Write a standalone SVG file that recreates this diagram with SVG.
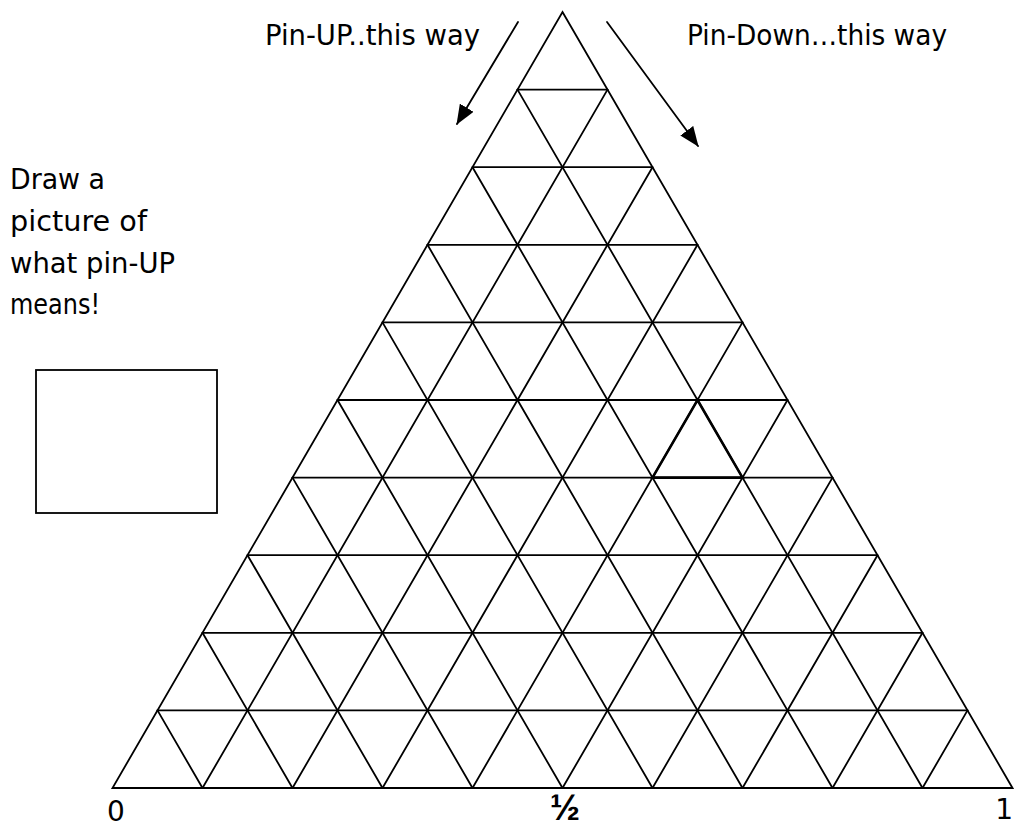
<svg xmlns="http://www.w3.org/2000/svg" width="1014" height="827" viewBox="0 0 1014 827">
  <style>
    .g { stroke: #000; stroke-width: 1.8; fill: none; stroke-linecap: round; }
    .t { font-family: "Comic Sans MS", "DejaVu Sans", sans-serif; font-size: 28px; fill: #000; }
  </style>
  <defs>
    <marker id="ah" viewBox="0 0 20 16" refX="19" refY="8" markerWidth="20" markerHeight="16" markerUnits="userSpaceOnUse" orient="auto">
      <path d="M0,0 L20,8 L0,16 z" fill="#000"/>
    </marker>
  </defs>
  <rect width="1014" height="827" fill="#fff"/>

  <g id="triangle-grid" class="g">
    <polygon points="562.5,12 1012.5,788 112.5,788"/>
    <line x1="517.5" y1="89.6" x2="607.5" y2="89.6"/>
    <line x1="472.5" y1="167.2" x2="652.5" y2="167.2"/>
    <line x1="427.5" y1="244.8" x2="697.5" y2="244.8"/>
    <line x1="382.5" y1="322.4" x2="742.5" y2="322.4"/>
    <line x1="337.5" y1="400" x2="787.5" y2="400"/>
    <line x1="292.5" y1="477.6" x2="832.5" y2="477.6"/>
    <line x1="247.5" y1="555.2" x2="877.5" y2="555.2"/>
    <line x1="202.5" y1="632.8" x2="922.5" y2="632.8"/>
    <line x1="157.5" y1="710.4" x2="967.5" y2="710.4"/>
    <line x1="202.5" y1="788" x2="607.5" y2="89.6"/>
    <line x1="292.5" y1="788" x2="652.5" y2="167.2"/>
    <line x1="382.5" y1="788" x2="697.5" y2="244.8"/>
    <line x1="472.5" y1="788" x2="742.5" y2="322.4"/>
    <line x1="562.5" y1="788" x2="787.5" y2="400"/>
    <line x1="652.5" y1="788" x2="832.5" y2="477.6"/>
    <line x1="742.5" y1="788" x2="877.5" y2="555.2"/>
    <line x1="832.5" y1="788" x2="922.5" y2="632.8"/>
    <line x1="922.5" y1="788" x2="967.5" y2="710.4"/>
    <line x1="922.5" y1="788" x2="517.5" y2="89.6"/>
    <line x1="832.5" y1="788" x2="472.5" y2="167.2"/>
    <line x1="742.5" y1="788" x2="427.5" y2="244.8"/>
    <line x1="652.5" y1="788" x2="382.5" y2="322.4"/>
    <line x1="562.5" y1="788" x2="337.5" y2="400"/>
    <line x1="472.5" y1="788" x2="292.5" y2="477.6"/>
    <line x1="382.5" y1="788" x2="247.5" y2="555.2"/>
    <line x1="292.5" y1="788" x2="202.5" y2="632.8"/>
    <line x1="202.5" y1="788" x2="157.5" y2="710.4"/>
    <polygon points="697.5,400 742.5,477.6 652.5,477.6" stroke-width="2.6"/>
  </g>

  <g id="connectors" class="g">
    <line x1="518" y1="22" x2="457" y2="124" marker-end="url(#ah)"/>
    <line x1="607" y1="22" x2="698" y2="146" marker-end="url(#ah)"/>
  </g>

  <g id="label-pin-up">
    <text class="t" x="265" y="45" textLength="215" lengthAdjust="spacingAndGlyphs">Pin-UP..this way</text>
  </g>
  <g id="label-pin-down">
    <text class="t" x="687" y="45" textLength="260" lengthAdjust="spacingAndGlyphs">Pin-Down…this way</text>
  </g>

  <g id="instruction">
    <text class="t" x="10" y="189" textLength="95" lengthAdjust="spacingAndGlyphs">Draw a</text>
    <text class="t" x="10" y="231" textLength="137" lengthAdjust="spacingAndGlyphs">picture of</text>
    <text class="t" x="10" y="273" textLength="165" lengthAdjust="spacingAndGlyphs">what pin-UP</text>
    <text class="t" x="10" y="314" textLength="90" lengthAdjust="spacingAndGlyphs">means!</text>
  </g>

  <g id="drawing-box">
    <rect x="36" y="370" width="181" height="143" fill="none" stroke="#000" stroke-width="1.8"/>
  </g>

  <g id="axis-labels">
    <text class="t" x="107" y="821" font-size="26">0</text>
    <text x="565" y="820" text-anchor="middle" font-family="Liberation Sans, sans-serif" font-weight="bold" font-size="36" fill="#000">½</text>
    <text class="t" x="1013" y="819" text-anchor="end" font-size="26">1</text>
  </g>
</svg>
